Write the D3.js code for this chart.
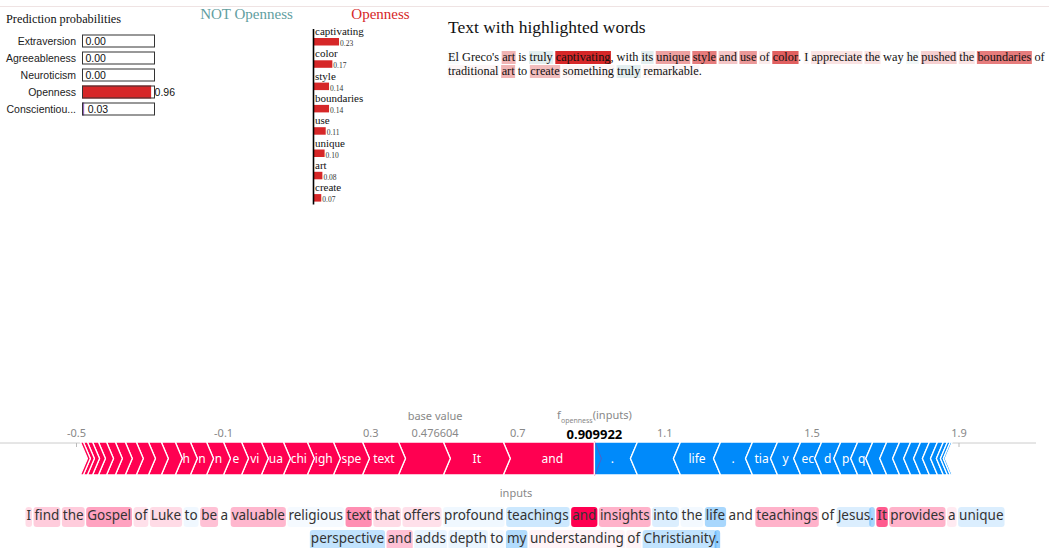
<!DOCTYPE html>
<html>
<head>
<meta charset="utf-8">
<script src="https://cdn.jsdelivr.net/npm/d3@7"></script>
<style>
  body { margin: 0; background: #fff; }
</style>
</head>
<body>
<svg id="vis" width="1049" height="548"></svg>
<script>
// ---- LIME: prediction probabilities
const classes = ['Extraversion', 'Agreeableness', 'Neuroticism', 'Openness', 'Conscientiou...'];
const probs = [0.00, 0.00, 0.00, 0.96, 0.03];

// ---- LIME: word weights for "Openness"
const features = ['captivating', 'color', 'style', 'boundaries', 'use', 'unique', 'art', 'create'];
const weights = [0.23, 0.17, 0.14, 0.14, 0.11, 0.10, 0.08, 0.07];

// ---- LIME: text with highlighted words (negative = NOT Openness)
const limeWords1 = ['El', "Greco's", 'art', 'is', 'truly', 'captivating', ',', 'with', 'its', 'unique', 'style', 'and', 'use', 'of', 'color', '.', 'I', 'appreciate', 'the', 'way', 'he', 'pushed', 'the', 'boundaries', 'of'];
const limeVals1 = [-0.01, 0, 0.08, 0, -0.04, 0.23, 0, 0, -0.04, 0.10, 0.14, 0.06, 0.11, 0.02, 0.17, 0, 0.01, 0.03, 0.03, 0, -0.02, 0.05, 0.03, 0.14, 0];
const limeWords2 = ['traditional', 'art', 'to', 'create', 'something', 'truly', 'remarkable', '.'];
const limeVals2 = [0.01, 0.08, 0, 0.07, 0.01, -0.04, 0.01, 0];

// ---- SHAP force plot
const baseValue = 0.476604;
const fValue = 0.909922;
const tickVals = [-0.5, -0.1, 0.3, 0.7, 1.1, 1.5, 1.9];
// pushing higher (red), largest first = closest to f(x)
const posLabels = ['and', 'It', '', 'text', 'Gospel', 'insights', 'teachings', 'valuable', 'provides', 'be', 'and', 'find', 'the', 'Luke', 'I', 'that', 'offers', 'of', 'a', 'understanding', 'of', 'the', 'a', 'to'];
const posValues = [0.248, 0.163, 0.122, 0.098, 0.079, 0.071, 0.065, 0.060, 0.054, 0.049, 0.046, 0.044, 0.041, 0.038, 0.035, 0.033, 0.030, 0.027, 0.024, 0.022, 0.016, 0.014, 0.011, 0.008];
// pushing lower (blue), largest first = closest to f(x)
const negLabels = ['.', '', 'life', '.', 'Christianity', 'my', 'perspective', 'adds', 'depth', 'unique', 'into', 'teachings', 'Jesus', 'profound', 'to', 'religious', 'the', 'to', 'a', 'of'];
const negValues = [0.117, 0.117, 0.109, 0.087, 0.068, 0.063, 0.057, 0.052, 0.046, 0.041, 0.038, 0.035, 0.030, 0.027, 0.024, 0.022, 0.016, 0.011, 0.008, 0.005];

// ---- SHAP text plot
const shapWords1 = ['I', 'find', 'the', 'Gospel', 'of', 'Luke', 'to', 'be', 'a', 'valuable', 'religious', 'text', 'that', 'offers', 'profound', 'teachings', 'and', 'insights', 'into', 'the', 'life', 'and', 'teachings', 'of', 'Jesus', '.', 'It', 'provides', 'a', 'unique'];
const shapVals1 = [0.035, 0.05, 0.05, 0.09, 0.03, 0.035, -0.015, 0.06, 0, 0.07, -0.01, 0.11, 0.035, 0.03, -0.015, -0.05, 0.248, 0.075, -0.035, -0.012, -0.085, 0, 0.075, 0, -0.035, -0.085, 0.16, 0.075, 0.02, -0.035];
const shapWords2 = ['perspective', 'and', 'adds', 'depth', 'to', 'my', 'understanding', 'of', 'Christianity', '.'];
const shapVals2 = [-0.06, 0.06, -0.02, -0.02, -0.01, -0.075, 0.012, 0.012, -0.06, -0.1];

const W = 1049;
const SERIF = '"Liberation Serif", "Times New Roman", serif';
const SANS = '"Noto Sans", "Open Sans", sans-serif';
const limeRed = '#d62728', limeNot = '#5f9ea0';
const shapRed = 'rgb(255,0,81)', shapBlue = 'rgb(0,138,250)';

const svg = d3.select('#vis');

// faint rule at the top of the output cell
svg.append('line')
  .attr('x1', 0).attr('x2', W).attr('y1', 6.5).attr('y2', 6.5)
  .attr('stroke', '#efe3e3');

// ------------------------------------------------ prediction probabilities
const probG = svg.append('g');
probG.append('text')
  .attr('x', 6).attr('y', 23)
  .style('font', `12.3px ${SERIF}`).attr('fill', '#111')
  .text('Prediction probabilities');

const py = d3.scalePoint().domain(classes).range([41, 109]);
const pw = d3.scaleLinear().domain([0, 1]).range([0, 72]);
const boxX = 82, boxH = 13;

const rows = probG.selectAll('g.row')
  .data(classes.map((c, i) => ({ c, p: probs[i], i })))
  .enter().append('g').attr('class', 'row')
  .attr('transform', d => `translate(0,${py(d.c)})`);

rows.append('text')
  .attr('x', 76).attr('y', 4).attr('text-anchor', 'end')
  .style('font', '10.5px "Liberation Sans", Arial, sans-serif').attr('fill', '#222')
  .text(d => d.c);
rows.append('rect')
  .attr('x', boxX).attr('y', -boxH / 2)
  .attr('width', d => pw(d.p)).attr('height', boxH)
  .attr('fill', d => d3.schemeCategory10[d.i]);
rows.append('rect')
  .attr('x', boxX + 0.5).attr('y', -boxH / 2 + 0.5)
  .attr('width', pw(1)).attr('height', boxH - 1)
  .attr('fill', 'none').attr('stroke', '#333');
rows.append('text')
  .attr('x', d => boxX + pw(d.p) + 3.5).attr('y', 4)
  .style('font', '10.5px "Liberation Sans", Arial, sans-serif').attr('fill', '#111')
  .text(d => d3.format('.2f')(d.p));

// ------------------------------------------------ feature weights
const axisX = 313.5;
const featG = svg.append('g');
featG.append('text')
  .attr('x', axisX - 67).attr('y', 19).attr('text-anchor', 'middle')
  .style('font', `15px ${SERIF}`).attr('fill', limeNot)
  .text('NOT Openness');
featG.append('text')
  .attr('x', axisX + 67).attr('y', 19).attr('text-anchor', 'middle')
  .style('font', `15px ${SERIF}`).attr('fill', limeRed)
  .text('Openness');

const fy = d3.scalePoint().domain(d3.range(features.length)).range([35, 35 + 7 * 22.3]);
const fw = d3.scaleLinear().domain([0, 1]).range([0, 111]);

const frow = featG.selectAll('g.feat')
  .data(features.map((f, i) => ({ f, w: weights[i], i })))
  .enter().append('g').attr('class', 'feat')
  .attr('transform', d => `translate(0,${fy(d.i)})`);
frow.append('text')
  .attr('x', axisX + 1.5).attr('y', 0)
  .style('font', `11px ${SERIF}`).attr('fill', '#111')
  .text(d => d.f);
frow.append('rect')
  .attr('x', axisX).attr('y', 3)
  .attr('width', d => fw(d.w)).attr('height', 7.5)
  .attr('fill', limeRed);
frow.append('text')
  .attr('x', d => axisX + fw(d.w) + 1).attr('y', 11)
  .style('font', `7.5px ${SERIF}`).attr('fill', '#333')
  .text(d => d3.format('.2f')(d.w));

featG.append('line')
  .attr('x1', axisX).attr('x2', axisX)
  .attr('y1', 29).attr('y2', 204.5)
  .attr('stroke', '#000').attr('stroke-width', 1.6);

// ------------------------------------------------ helpers for highlighted text
function measure(g, str, font) {
  const t = g.append('text').style('font', font).text(str);
  const w = t.node().getComputedTextLength();
  t.remove();
  return w;
}

function tokenLine(g, words, vals, opt) {
  const items = words.map((t, i) => ({ t, v: vals[i] }));
  const lg = g.append('g');
  const space = measure(lg, 'x x', opt.font) - measure(lg, 'xx', opt.font);
  const boxes = lg.append('g');
  const texts = lg.selectAll('text.tok').data(items).enter().append('text')
    .attr('class', 'tok')
    .style('font', opt.font).attr('fill', opt.ink)
    .text(d => d.t);
  let cur = 0;
  texts.each(function (d, i) {
    d.w = this.getComputedTextLength();
    if (i > 0 && !/^[.,]$/.test(d.t)) cur += space;
    d.x = cur;
    cur += d.w;
  });
  const x0 = opt.anchor === 'middle' ? opt.x - cur / 2 : opt.x;
  texts.attr('x', d => x0 + d.x).attr('y', opt.y);
  boxes.selectAll('rect').data(items.filter(d => d.v !== 0)).enter().append('rect')
    .attr('x', d => x0 + d.x - opt.pad)
    .attr('y', opt.y - opt.above)
    .attr('width', d => d.w + 2 * opt.pad)
    .attr('height', opt.boxH)
    .attr('rx', opt.rx)
    .attr('fill', d => opt.color(d.v));
}

// ------------------------------------------------ LIME highlighted text
const limeG = svg.append('g');
limeG.append('text')
  .attr('x', 448).attr('y', 33)
  .style('font', `17.5px ${SERIF}`).attr('fill', '#111')
  .text('Text with highlighted words');

const limeMax = d3.max(weights);
const limeColor = v => {
  const c = d3.color(v > 0 ? limeRed : limeNot);
  c.opacity = Math.min(1, Math.abs(v) / limeMax);
  return c.toString();
};
const limeOpt = { font: `12.3px ${SERIF}`, ink: '#111', x: 448, pad: 0.5, above: 10, boxH: 13, rx: 0, color: limeColor };
tokenLine(limeG, limeWords1, limeVals1, { ...limeOpt, y: 61 });
tokenLine(limeG, limeWords2, limeVals2, { ...limeOpt, y: 75 });

// ------------------------------------------------ SHAP force plot
const fx = d3.scaleLinear().domain([-0.5, 1.9]).range([76, 958.5]);
const axisY = 443, barTop = 442, barH = 33, tip = 7;
const mid = barTop + barH / 2, bot = barTop + barH;
const shapG = svg.append('g');

shapG.append('line')
  .attr('x1', 0).attr('x2', 1036).attr('y1', axisY).attr('y2', axisY)
  .attr('stroke', '#ccc');

const ax = shapG.append('g')
  .attr('transform', `translate(0,${axisY})`)
  .call(d3.axisTop(fx).tickValues(tickVals).tickSize(-4).tickPadding(6).tickFormat(d => String(d)));
ax.select('.domain').remove();
ax.selectAll('line').attr('stroke', '#bbb');
ax.selectAll('text').attr('fill', '#888').style('font', `11px ${SANS}`);

// base value and output labels
shapG.append('text')
  .attr('x', fx(baseValue)).attr('y', 420).attr('text-anchor', 'middle')
  .style('font', `11px ${SANS}`).attr('fill', '#888').text('base value');
shapG.append('text')
  .attr('x', fx(baseValue)).attr('y', 437).attr('text-anchor', 'middle')
  .style('font', `11px ${SANS}`).attr('fill', '#888').text(d3.format('.6f')(baseValue));

const fLab = shapG.append('text')
  .attr('x', fx(fValue)).attr('y', 419).attr('text-anchor', 'middle')
  .style('font', `11px ${SANS}`).attr('fill', '#888');
fLab.append('tspan').text('f');
fLab.append('tspan').attr('dy', 3.5).style('font-size', '7px').text('openness');
fLab.append('tspan').attr('dy', -3.5).text('(inputs)');
shapG.append('text')
  .attr('x', fx(fValue)).attr('y', 439).attr('text-anchor', 'middle')
  .style('font', `bold 13px ${SANS}`).attr('fill', '#000')
  .text(d3.format('.6f')(fValue));

// build segments from f(x) outward
let acc = fValue;
const posSegs = posValues.map((v, i) => {
  const s = { label: posLabels[i], x1: fx(acc), x0: fx(acc - v), i, k: 'pos' };
  acc -= v;
  return s;
});
acc = fValue;
const negSegs = negValues.map((v, i) => {
  const s = { label: negLabels[i], x0: fx(acc), x1: fx(acc + v), i, k: 'neg' };
  acc += v;
  return s;
});

const posPoly = s => {
  const pts = [[s.x0, barTop], [s.x1, barTop]];
  if (s.i > 0) pts.push([s.x1 + tip, mid]);
  pts.push([s.x1, bot], [s.x0, bot], [s.x0 + tip, mid]);
  return pts.join(' ');
};
const negPoly = s => {
  const pts = [[s.x0, barTop], [s.x1, barTop], [s.x1 - tip, mid], [s.x1, bot], [s.x0, bot]];
  if (s.i > 0) pts.push([s.x0 - tip, mid]);
  return pts.join(' ');
};

const segG = shapG.append('g');
segG.selectAll('polygon.pos').data(posSegs).enter().append('polygon')
  .attr('class', 'pos').attr('points', posPoly)
  .attr('fill', shapRed).attr('stroke', '#fff').attr('stroke-width', 1.3);
segG.selectAll('polygon.neg').data(negSegs).enter().append('polygon')
  .attr('class', 'neg').attr('points', negPoly)
  .attr('fill', shapBlue).attr('stroke', '#fff').attr('stroke-width', 1.3);

// faint chevron at the output value
segG.append('path')
  .attr('d', d3.line()([[fx(fValue), barTop - 1], [fx(fValue) + tip, mid], [fx(fValue), bot + 1]]))
  .attr('fill', 'none').attr('stroke', 'rgba(255,0,81,0.3)').attr('stroke-width', 1);

// segment labels, trimmed from both ends to fit inside the chevron
const labelFont = `12px ${SANS}`;
const fitLabel = (str, avail) => {
  let s = str, left = true;
  while (s.length && measure(segG, s, labelFont) > avail) {
    s = left ? s.slice(1) : s.slice(0, -1);
    left = !left;
  }
  return s;
};
posSegs.concat(negSegs)
  .filter(s => s.x1 - s.x0 >= 15 && s.label)
  .forEach(s => {
    const off = s.k === 'pos' ? tip / 2 : -tip / 2;
    const txt = fitLabel(s.label, s.x1 - s.x0 - 6);
    if (!txt) return;
    segG.append('text')
      .attr('x', (s.x0 + s.x1) / 2 + off).attr('y', mid + 4)
      .attr('text-anchor', 'middle')
      .style('font', labelFont).attr('fill', '#fff')
      .text(txt);
  });

shapG.append('text')
  .attr('x', 516).attr('y', 497).attr('text-anchor', 'middle')
  .style('font', `11px ${SANS}`).attr('fill', '#888').text('inputs');

// ------------------------------------------------ SHAP text plot
const shapMax = d3.max(shapVals1.concat(shapVals2), Math.abs);
const shapColor = v => {
  const c = d3.color(v > 0 ? shapRed : shapBlue);
  c.opacity = Math.abs(v) / shapMax;
  return c.toString();
};
const shapOpt = { font: `13.5px ${SANS}`, ink: '#333', x: 515, anchor: 'middle', pad: 1, above: 13, boxH: 20, rx: 3, color: shapColor };
tokenLine(shapG, shapWords1, shapVals1, { ...shapOpt, y: 520 });
tokenLine(shapG, shapWords2, shapVals2, { ...shapOpt, y: 543 });
</script>
</body>
</html>
